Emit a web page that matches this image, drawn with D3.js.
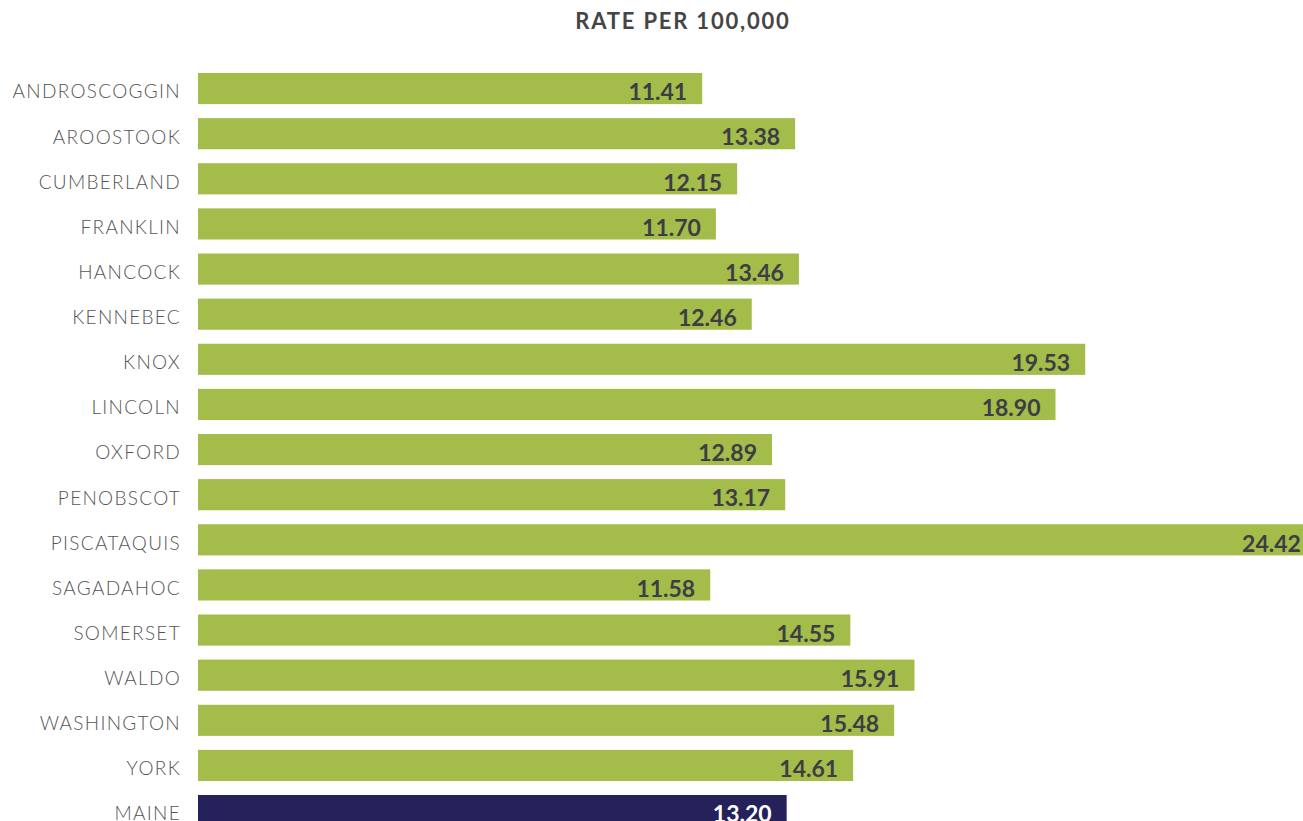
<!DOCTYPE html>
<html><head><meta charset="utf-8">
<script src="https://cdn.jsdelivr.net/npm/d3@7"></script>
<style>body{margin:0;background:#fff;overflow:hidden}svg{display:block}</style>
</head><body>
<script>
const categories = ["ANDROSCOGGIN","AROOSTOOK","CUMBERLAND","FRANKLIN","HANCOCK","KENNEBEC","KNOX","LINCOLN","OXFORD","PENOBSCOT","PISCATAQUIS","SAGADAHOC","SOMERSET","WALDO","WASHINGTON","YORK","MAINE"];
const values = [11.41,13.38,12.15,11.70,13.46,12.46,19.53,18.90,12.89,13.17,24.42,11.58,14.55,15.91,15.48,14.61,13.20];
const title = "RATE PER 100,000";

const W = 1303, H = 821;
const svg = d3.select("body").append("svg").attr("width", W).attr("height", H);

const x = d3.scaleLinear().domain([0, 24.42]).range([164, 164 + 24.42 * 47.17]);
const barStart = 198;
const y = d3.scaleBand().domain(categories).range([73 - 7, 73 - 7 + 45.125 * 17]).paddingInner(0.31).paddingOuter(0.155);

svg.append("text").attr("x", 683).attr("y", 29).attr("text-anchor", "middle")
  .style("font-family", "Lato, sans-serif").style("font-weight", 700).style("font-size", "22px")
  .style("fill", "#454545").style("letter-spacing", "1.8px").text(title);

const data = categories.map((c, i) => ({c, v: values[i]}));
const g = svg.append("g");
g.selectAll("rect").data(data).join("rect")
  .attr("x", barStart).attr("y", d => y(d.c))
  .attr("width", d => x(d.v) - barStart).attr("height", y.bandwidth())
  .attr("fill", d => d.c === "MAINE" ? "#25215a" : "#a3bc4a");

g.selectAll("text.cat").data(data).join("text").attr("class", "cat")
  .attr("x", 181).attr("y", d => y(d.c) + y.bandwidth() / 2 + 3).attr("dy", "0.36em")
  .attr("text-anchor", "end")
  .style("font-family", "Lato, sans-serif").style("font-weight", 300).style("font-size", "19px")
  .style("fill", "#555").style("letter-spacing", "1.3px").text(d => d.c);

g.selectAll("text.val").data(data).join("text").attr("class", "val")
  .attr("x", d => x(d.v) - 15).attr("y", d => y(d.c) + y.bandwidth() / 2 + 3).attr("dy", "0.38em")
  .attr("text-anchor", "end")
  .style("font-family", "Lato, sans-serif").style("font-weight", 700).style("font-size", "23px")
  .style("fill", d => d.c === "MAINE" ? "#fff" : "#3d3d45").text(d => d.v.toFixed(2));
</script>
</body></html>
